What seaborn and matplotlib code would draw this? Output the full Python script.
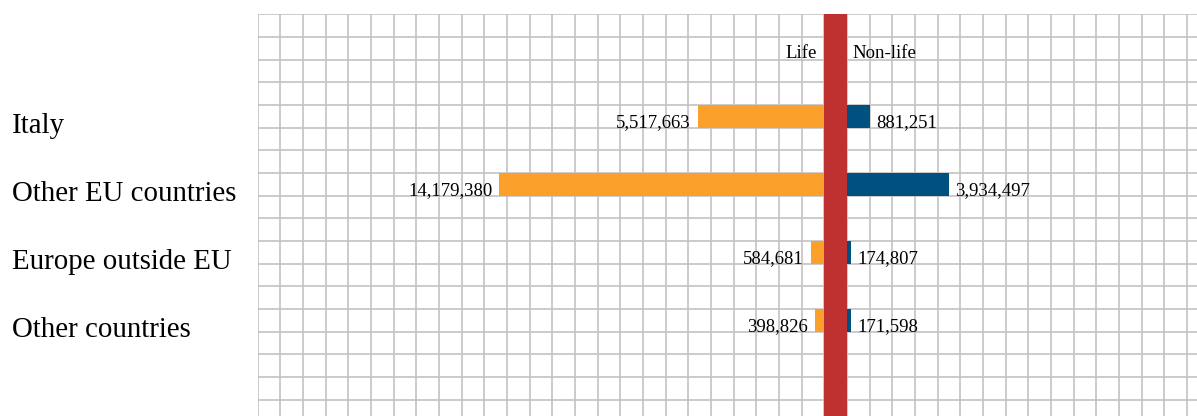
import matplotlib
matplotlib.use("Agg")
import matplotlib.pyplot as plt
import matplotlib.transforms as mtransforms
import seaborn as sns

# ---- data ----
categories = ["Italy", "Other EU countries", "Europe outside EU", "Other countries"]
life = [5517663, 14179380, 584681, 398826]
nonlife = [881251, 3934497, 174807, 171598]
side_labels = ["Life", "Non-life"]

# ---- style ----
sns.set_style("white")
plt.rcParams["font.family"] = ["Liberation Serif", "DejaVu Serif"]

ORANGE = "#fba12b"
BLUE = "#005080"
RED = "#bf3030"
GRID = "#c2c2c2"
TXT = "#000000"

W, H = 1197, 416
fig = plt.figure(figsize=(W / 100, H / 100), dpi=100)

cell = 22.67
gx0, gy0 = 257.5, 14.3
ncols = (W - gx0) / cell
nrows = (H - gy0) / cell

def frac_rect(x0, x1):
    return [x0 / W, 0, (x1 - x0) / W, (H - gy0) / H]

# background grid axes
axg = fig.add_axes(frac_rect(gx0, W))
axg.set_xlim(0, ncols)
axg.set_ylim(nrows, 0)
for k in range(0, int(ncols) + 1):
    axg.axvline(k, color=GRID, lw=1.2, zorder=1)
for k in range(0, int(nrows) + 1):
    axg.axhline(k, color=GRID, lw=1.2, zorder=1)
axg.axvspan(25, 26, color=RED, lw=0, zorder=3)
axg.set_axis_off()

# data axes
mid_l = gx0 + 25 * cell
mid_r = gx0 + 26 * cell
LIFE_MAX = 24.73e6
NONLIFE_MAX = 13.46e6

# categorical units: category i at cell row 4.5 + 3*i
ylo = (nrows - 4.5) / 3
yhi = -1.5

ax_l = fig.add_axes(frac_rect(gx0, mid_l))
sns.barplot(x=life, y=categories, ax=ax_l, orient="h", width=1 / 3,
            color=ORANGE, saturation=1, linewidth=0)
ax_l.set_xlim(LIFE_MAX, 0)
ax_l.set_ylim(ylo, yhi)

ax_r = fig.add_axes(frac_rect(mid_r, W))
sns.barplot(x=nonlife, y=categories, ax=ax_r, orient="h", width=1 / 3,
            color=BLUE, saturation=1, linewidth=0)
ax_r.set_xlim(0, NONLIFE_MAX)
ax_r.set_ylim(ylo, yhi)

val_fs = 13.5
for i, (a, b) in enumerate(zip(life, nonlife)):
    yb = i + 0.16
    ax_l.annotate(f"{a:,}", (a, yb), xytext=(-7, 0), textcoords="offset pixels",
                  ha="right", va="baseline", fontsize=val_fs, color=TXT)
    ax_r.annotate(f"{b:,}", (b, yb), xytext=(6, 0), textcoords="offset pixels",
                  ha="left", va="baseline", fontsize=val_fs, color=TXT)

# side labels
y_side = ((58 - gy0) / cell - 4.5) / 3
ax_l.annotate(side_labels[0], (0, y_side), xytext=(-7, 0), textcoords="offset pixels",
              ha="right", va="baseline", fontsize=val_fs, color=TXT)
ax_r.annotate(side_labels[1], (0, y_side), xytext=(6, 0), textcoords="offset pixels",
              ha="left", va="baseline", fontsize=val_fs, color=TXT)

# category labels
trans = mtransforms.blended_transform_factory(fig.transFigure, ax_l.transData)
for i, c in enumerate(categories):
    ax_l.text(12 / W, i + 0.25, c, transform=trans, ha="left", va="baseline",
              fontsize=20.8, color=TXT, clip_on=False)

for ax in (ax_l, ax_r):
    ax.set_axis_off()

fig.savefig("out.png", dpi=100)
